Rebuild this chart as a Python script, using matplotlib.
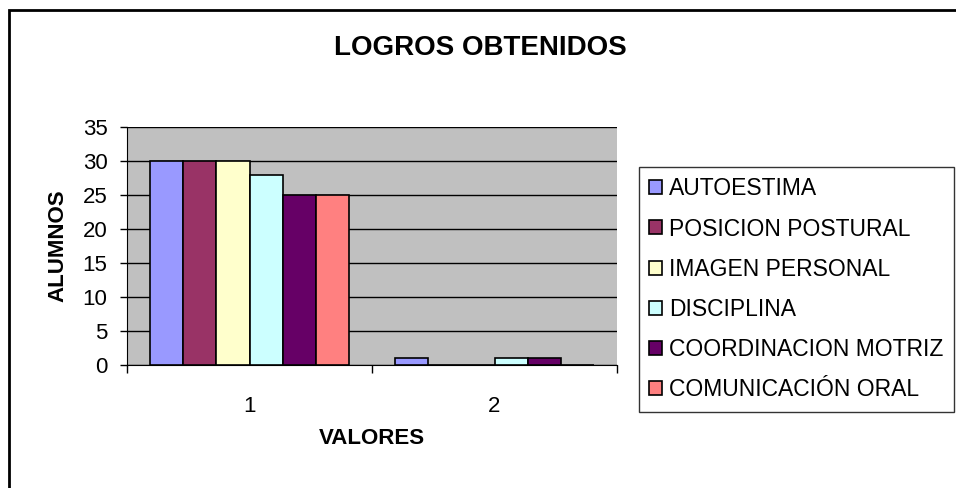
import numpy as np
import matplotlib.pyplot as plt
from matplotlib.patches import Rectangle

plt.rcParams['font.family'] = ['Liberation Sans', 'DejaVu Sans']

# datos
categorias = ['1', '2']
series = ['AUTOESTIMA', 'POSICION POSTURAL', 'IMAGEN PERSONAL',
          'DISCIPLINA', 'COORDINACION MOTRIZ', 'COMUNICACIÓN ORAL']
autoestima = [30, 1]
posicion = [30, 0]
imagen = [30, 0]
disciplina = [28, 1]
coordinacion = [25, 1]
comunicacion = [25, 0]
valores = [autoestima, posicion, imagen, disciplina, coordinacion, comunicacion]
colores = ['#9999FF', '#993366', '#FFFFCC', '#CCFFFF', '#660066', '#FF8080']

fig = plt.figure(figsize=(9.56, 4.88), dpi=100)
ax = fig.add_axes([127/956, 1-365/488, (617-127)/956, (365-127)/488])
ax.set_facecolor('#C0C0C0')

x = np.arange(len(categorias))
ancho = 0.135
for i, (nombre, v) in enumerate(zip(series, valores)):
    ax.bar(x + (i - 2.5) * ancho, v, ancho, color=colores[i], edgecolor='black',
           linewidth=1.2, label=nombre, zorder=3)

ax.set_xlim(-0.5, 1.5)
ax.set_ylim(0, 35)
ax.set_yticks(range(0, 36, 5))
ax.yaxis.grid(True, color='black', linewidth=1, zorder=1)
ax.set_xticks(x)
ax.set_xticklabels(categorias)
ax.set_xticks([-0.5, 0.5, 1.5], minor=True)
ax.tick_params(axis='x', which='major', length=0, pad=22, labelsize=16)
ax.tick_params(axis='x', which='minor', length=6, direction='out', width=1)
ax.tick_params(axis='y', length=5, width=1, pad=9, labelsize=16)
for s in ['top', 'right']:
    ax.spines[s].set_visible(False)
ax.spines['left'].set_color('black')
ax.spines['bottom'].set_color('black')

ax.set_ylabel('ALUMNOS', fontsize=16, fontweight='bold', labelpad=10)
ax.set_xlabel('VALORES', fontsize=16, fontweight='bold', labelpad=8)
fig.text(480/956, 1-48/488, 'LOGROS OBTENIDOS', fontsize=20, fontweight='bold',
         ha='center', va='center')

leg = fig.legend(loc='upper left', bbox_to_anchor=(639/956, 1-167/488),
                 fontsize=16.5, frameon=True, fancybox=False, edgecolor='black',
                 handlelength=0.57, handleheight=0.57, handletextpad=0.3,
                 labelspacing=0.75, borderpad=0.45, borderaxespad=0)
leg.get_frame().set_linewidth(1)

# marco del grafico
fig.patches.append(Rectangle((9/956, -0.05), 1.1, 1 - 10/488 + 0.05,
                             transform=fig.transFigure, fill=False,
                             edgecolor='black', linewidth=2))

plt.savefig('out.png', dpi=100)
